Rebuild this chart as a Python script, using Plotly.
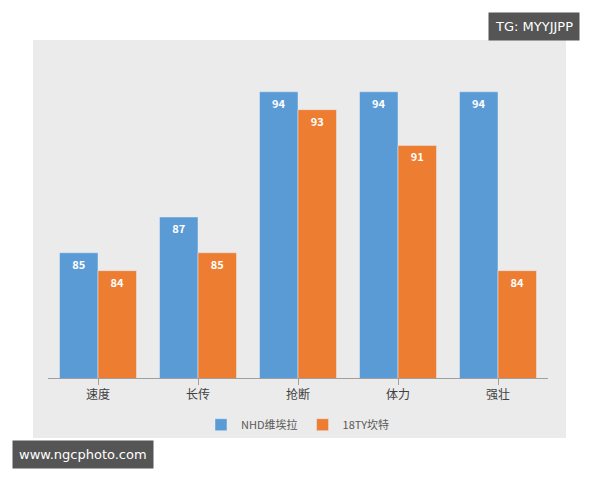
import plotly.graph_objects as go

categories = ["速度", "长传", "抢断", "体力", "强壮"]
nhd = [85, 87, 94, 94, 94]
tty = [84, 85, 93, 91, 84]

fig = go.Figure()
fig.add_trace(go.Bar(x=categories, y=nhd, name="NHD维埃拉", marker_color="#5b9bd5",
                     text=["<b>%d</b>" % v for v in nhd], textposition="inside",
                     insidetextanchor="end", textfont=dict(color="white", size=11)))
fig.add_trace(go.Bar(x=categories, y=tty, name="18TY坎特", marker_color="#ed7d31",
                     text=["<b>%d</b>" % v for v in tty], textposition="inside",
                     insidetextanchor="end", textfont=dict(color="white", size=11)))

# page body adds 8px margin, so figure is 592x472 with shifted margins
fig.update_layout(
    width=592, height=472,
    margin=dict(l=40, r=52, t=48, b=102),
    paper_bgcolor="white", plot_bgcolor="rgba(0,0,0,0)",
    barmode="group", bargap=0.23, bargroupgap=0,
    font=dict(family="Noto Sans CJK SC", size=12, color="#404040"),
    showlegend=True,
    legend=dict(orientation="h", x=0.5, xanchor="center", y=-0.1, yanchor="top",
                bgcolor="rgba(0,0,0,0)", font=dict(size=11, color="#595959")),
    shapes=[dict(type="rect", xref="paper", yref="paper", x0=-0.03, x1=1.036,
                 y0=-0.186, y1=1.05, fillcolor="#ebebeb", line_width=0, layer="below")],
    annotations=[
        dict(text="TG: MYYJJPP", xref="paper", yref="paper", x=1.064, y=1.137,
             xanchor="right", yanchor="top", showarrow=False, bgcolor="#555555",
             font=dict(color="white", size=13, family="DejaVu Sans"), borderpad=6),
        dict(text="www.ngcphoto.com", xref="paper", yref="paper", x=-0.072, y=-0.193,
             xanchor="left", yanchor="top", showarrow=False, bgcolor="#555555",
             font=dict(color="white", size=13, family="DejaVu Sans"), borderpad=6),
    ],
)
fig.update_xaxes(showline=True, linecolor="#a0a0a0", ticks="outside", tickcolor="#a0a0a0",
                 ticklen=6, tickfont=dict(size=12, color="#404040"), automargin=False)
fig.update_yaxes(range=[78, 96], visible=False, automargin=False)
fig.write_html("out.html")
